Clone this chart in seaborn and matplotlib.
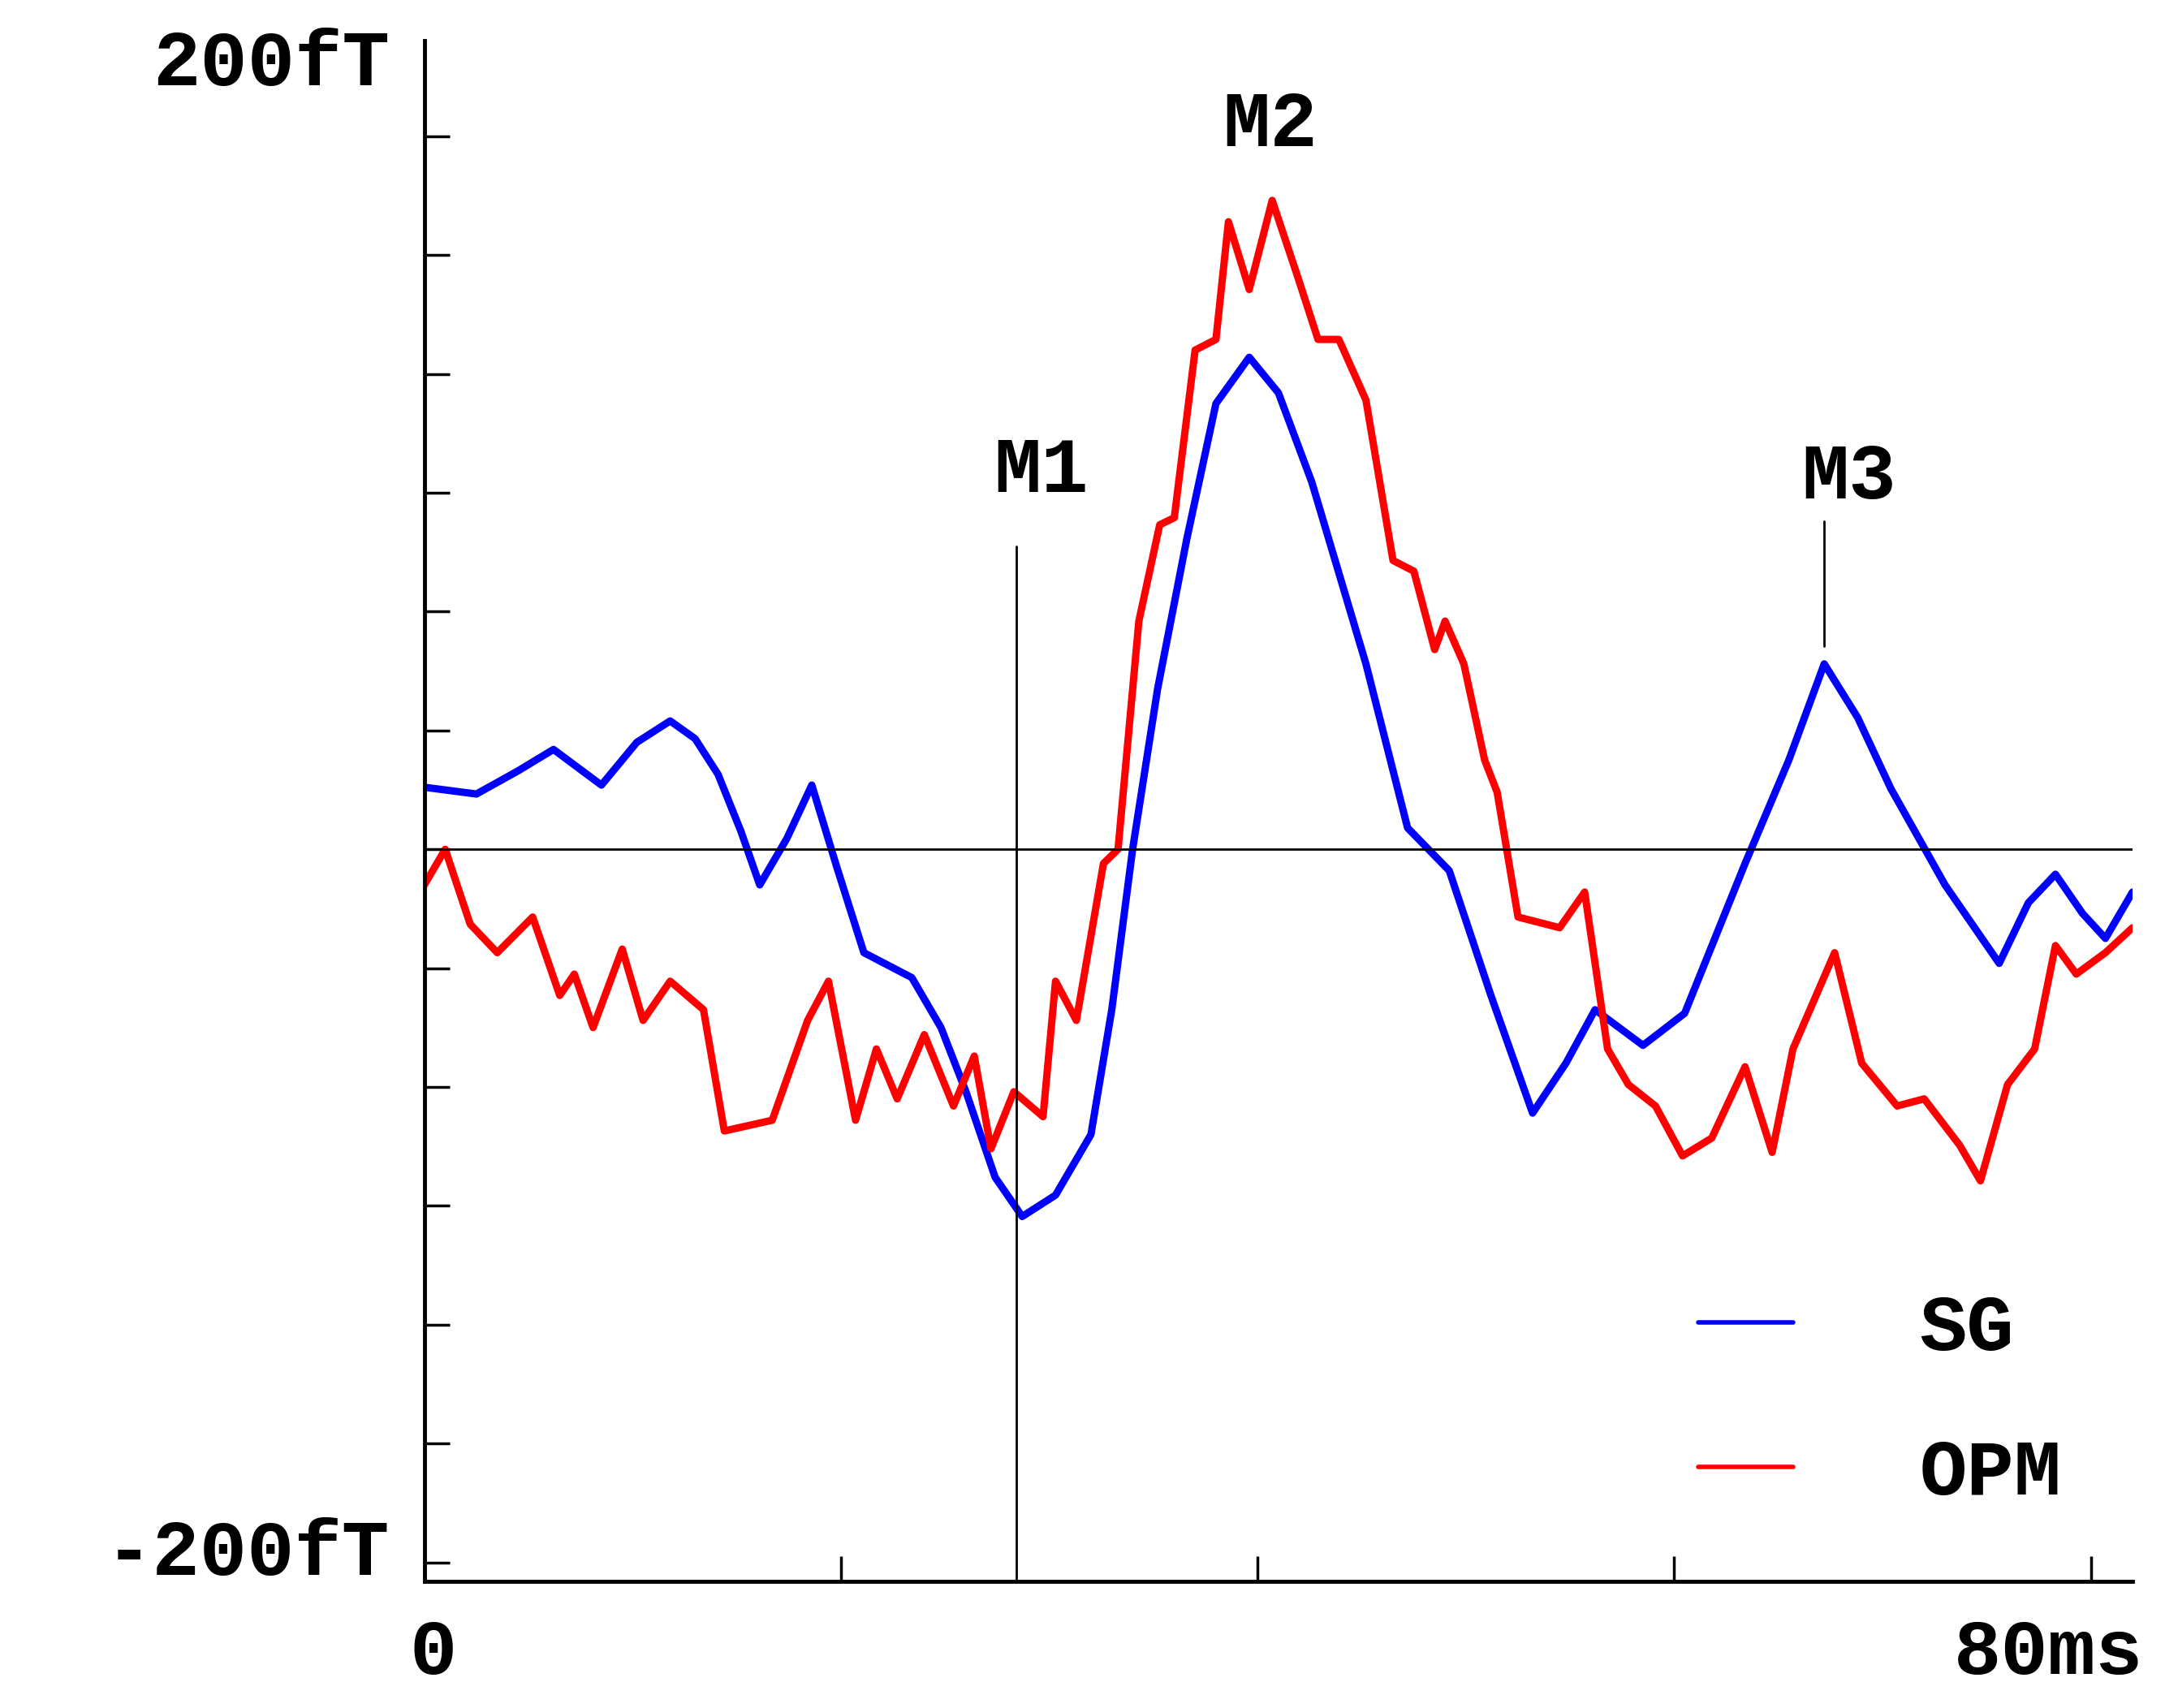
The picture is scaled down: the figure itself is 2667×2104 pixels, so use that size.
import matplotlib
matplotlib.use("Agg")
import matplotlib.pyplot as plt
import seaborn as sns
import pandas as pd

sg_t = [0,2.5,4.5,6.2,8.5,10.2,11.8,13,14.1,15.2,16.1,17.4,18.6,19.8,21.1,23.4,24.8,26,27.4,28.7,30.3,32,33,34,35.2,36.6,38,39.6,41,42.6,45.2,47.2,49.2,51.2,53.2,54.8,56.2,58.5,60.5,63.4,65.5,67.2,68.8,70.4,73,75.6,77,78.3,79.6,80.7,82]
sg_v = [17.4,15.5,22,28,18,30,36,31,21,5,-10,3,18,-5,-29,-36,-50,-68,-92,-103,-97,-80,-45,0,45,87,125,138,128,103,52,6,-6,-41,-74,-60,-45,-55,-46,-4,25,52,37,17,-10,-32,-15,-7,-18,-25,-12]
opm_t = [0,1,2.2,3.5,5.2,6.5,7.2,8.1,9.5,10.5,11.8,13.4,14.4,16.7,18.4,19.4,20.7,21.7,22.7,24,25.4,26.4,27.2,28.3,29.7,30.3,31.3,32.6,33.3,34.3,35.3,36,37,38,38.6,39.6,40.7,41.9,42.9,43.9,45.2,46.5,47.5,48.5,49,49.9,50.9,51.5,52.5,54.5,55.7,56.8,57.8,59.1,60.4,61.8,63.4,64.7,65.7,67.7,69,70.7,72,73.7,74.7,76,77.3,78.3,79.3,80.7,82]
opm_v = [-10,0,-21,-29,-19,-41,-35,-50,-28,-48,-37,-45,-79,-76,-48,-37,-76,-56,-70,-52,-72,-58,-84,-68,-75,-37,-48,-4,0,64,91,93,140,143,176,157,182,161,143,143,126,81,78,56,64,52,25,16,-19,-22,-12,-56,-66,-72,-86,-81,-61,-85,-56,-29,-60,-72,-70,-83,-93,-66,-56,-27,-35,-29,-22]

df = pd.concat([pd.DataFrame({"t": sg_t, "v": sg_v, "s": "SG"}),
                pd.DataFrame({"t": opm_t, "v": opm_v, "s": "OPM"})])

sns.set_style("white")
plt.rcParams['font.family'] = ['Liberation Mono', 'DejaVu Sans']
plt.rcParams['text.color'] = 'black'
fig = plt.figure(figsize=(26.67, 21.04), dpi=100)
ax = fig.add_axes([0.196, 0.074, 0.789, 0.902])
sns.lineplot(data=df, x="t", y="v", hue="s", palette={"SG": "#0000ff", "OPM": "#ff0000"},
             linewidth=6.5, ax=ax, sort=False, estimator=None)
ax.set_xlim(0, 82)
ax.set_ylim(-205.4, 226.7)
ax.axhline(0, color="black", lw=2)
ax.plot([28.4, 28.4], [-205.4, 85], color="black", lw=2)
ax.plot([67.2, 67.2], [57, 92], color="black", lw=2)
fp = dict(fontsize=70, fontweight="bold", ha="center", va="center", color="black")
ax.text(29.6, 106, "M1", **fp)
ax.text(40.6, 203, "M2", **fp)
ax.text(68.4, 104, "M3", **fp)
for s in ["top", "right"]:
    ax.spines[s].set_visible(False)
for s in ["left", "bottom"]:
    ax.spines[s].set_linewidth(3.5)
    ax.spines[s].set_color("black")
ax.set_yticks([i * 200 / 6 for i in range(-6, 7)])
ax.set_xticks([0, 20, 40, 60, 80])
ax.tick_params(direction="in", length=22, width=2.5, left=True, bottom=True,
               color="black", labelleft=False, labelbottom=False)
ax.set_xlabel(""); ax.set_ylabel("")
tp = dict(fontsize=70, fontweight="bold", va="center", color="black")
fig.text(0.180, 0.962, "200fT", ha="right", **tp)
fig.text(0.180, 0.090, "-200fT", ha="right", **tp)
fig.text(0.200, 0.032, "0", ha="center", **tp)
fig.text(0.990, 0.032, "80ms", ha="right", **tp)
h, l = ax.get_legend_handles_labels()
leg = ax.legend(h, l, loc="lower right", bbox_to_anchor=(1.0, 0.0), frameon=False,
          handlelength=1.2, handletextpad=1.6, labelspacing=0.9,
          prop={"family": "Liberation Mono", "weight": "bold", "size": 70})
for line in leg.get_lines():
    line.set_linewidth(4)
for t in leg.get_texts():
    t.set_color("black")
fig.savefig("out.png", dpi=100, facecolor="white")
